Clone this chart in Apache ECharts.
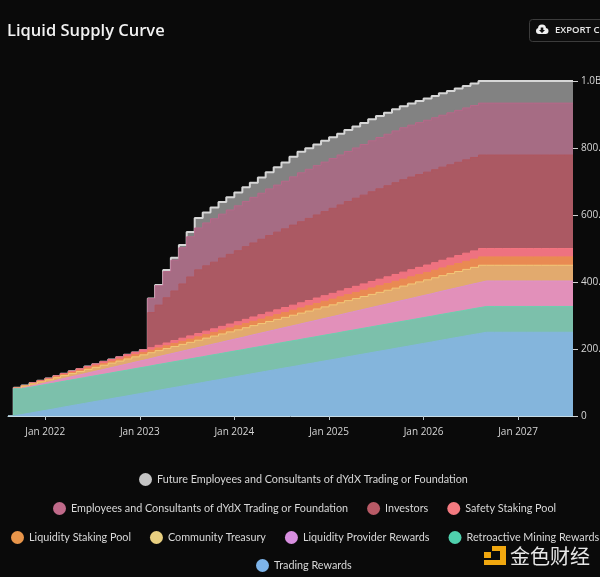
<!DOCTYPE html>
<html>
<head>
<meta charset="utf-8">
<script src="https://cdn.jsdelivr.net/npm/echarts@6/dist/echarts.min.js"></script>
<style>
html,body{margin:0;padding:0;background:#0a0a0a;width:600px;height:577px;overflow:hidden}
#c{width:720px;height:577px}
</style>
</head>
<body>
<div id="c"></div>
<script>
// Values in millions, one per month: first point is launch, then 1st of each month from Sep 2021
const tradingRewards = [0,4.2,8.3,12.5,16.7,20.8,25,29.2,33.3,37.5,41.7,45.8,50,54.2,58.3,62.5,66.7,70.8,75,79.2,83.3,87.5,91.7,95.8,100,104.2,108.3,112.5,116.7,120.8,125,129.2,133.3,137.5,141.7,145.8,150,154.2,158.3,162.5,166.7,170.8,175,179.2,183.3,187.5,191.7,195.8,200,204.2,208.3,212.5,216.7,220.8,225,229.2,233.3,237.5,241.7,245.8,250,250,250,250,250,250,250,250,250,250,250,250,250];
const retroactiveMining = [0,77,77,77,77,77,77,77,77,77,77,77,77,77,77,77,77,77,77,77,77,77,77,77,77,77,77,77,77,77,77,77,77,77,77,77,77,77,77,77,77,77,77,77,77,77,77,77,77,77,77,77,77,77,77,77,77,77,77,77,77,77,77,77,77,77,77,77,77,77,77,77,77];
const liquidityProvider = [0,1.3,2.5,3.8,5.1,6.3,7.6,8.9,10.1,11.4,12.7,13.9,15.2,16.5,17.7,19,20.3,21.5,22.8,24.1,25.3,26.6,27.9,29.1,30.4,31.7,32.9,34.2,35.5,36.7,38,39.3,40.5,41.8,43.1,44.3,45.6,46.9,48.1,49.4,50.7,51.9,53.2,54.5,55.7,57,58.3,59.5,60.8,62.1,63.3,64.6,65.9,67.1,68.4,69.7,70.9,72.2,73.5,74.7,76,76,76,76,76,76,76,76,76,76,76,76,76];
const communityTreasury = [0,0.8,1.6,2.4,3.1,3.9,4.7,5.5,6.3,7,7.8,8.6,9.4,10.2,11,11.8,12.5,13.3,14.1,14.9,15.7,16.5,17.2,18,18.8,19.6,20.4,21.2,21.9,22.7,23.5,24.3,25.1,25.9,26.6,27.4,28.2,29,29.8,30.6,31.3,32.1,32.9,33.7,34.5,35.2,36,36.8,37.6,38.4,39.2,40,40.7,41.5,42.3,43.1,43.9,44.6,45.4,46.2,47,47,47,47,47,47,47,47,47,47,47,47,47];
const liquidityStaking = [0,0.4,0.8,1.3,1.7,2.1,2.5,2.9,3.3,3.8,4.2,4.6,5,5.4,5.8,6.3,6.7,7.1,7.5,7.9,8.3,8.8,9.2,9.6,10,10.4,10.8,11.3,11.7,12.1,12.5,12.9,13.3,13.8,14.2,14.6,15,15.4,15.8,16.3,16.7,17.1,17.5,17.9,18.3,18.8,19.2,19.6,20,20.4,20.8,21.3,21.7,22.1,22.5,22.9,23.3,23.8,24.2,24.6,25,25,25,25,25,25,25,25,25,25,25,25,25];
const safetyStaking = [0,0.4,0.8,1.3,1.7,2.1,2.5,2.9,3.3,3.8,4.2,4.6,5,5.4,5.8,6.3,6.7,7.1,7.5,7.9,8.3,8.8,9.2,9.6,10,10.4,10.8,11.3,11.7,12.1,12.5,12.9,13.3,13.8,14.2,14.6,15,15.4,15.8,16.3,16.7,17.1,17.5,17.9,18.3,18.8,19.2,19.6,20,20.4,20.8,21.3,21.7,22.1,22.5,22.9,23.3,23.8,24.2,24.6,25,25,25,25,25,25,25,25,25,25,25,25,25];
const investors = [0,0,0,0,0,0,0,0,0,0,0,0,0,0,0,0,0,0,105,120,135,148,162,176,190,195,199,204,208,212,217,221,225,229,232,235,239,242,245,248,251,254,257,260,263,265,268,270,272,274,276,276.5,277,277.3,277.6,278,278.2,278.4,278.6,278.8,279,279,279,279,279,279,279,279,279,279,279,279,279];
const employees = [0,0,0,0,0,0,0,0,0,0,0,0,0,0,0,0,0,0,42,58,78,92,108,120,125,128,129.5,131,132.5,134,135,136,137.5,139,140.5,142,144,146,146.6,147.2,147.8,148.4,149,149.5,150,151,152,153,153.7,154.4,155,155,155,155,155,155,155,155,155,155,155,155,155,155,155,155,155,155,155,155,155,155,155];
const futureEmployees = [0,0,0,0,0,0,0,0,0,0,0,0,0,0,0,0,0,0,0,2,5,7,8,14,30,31,34,36,38,40,42,44,47,50,53,56,60,63,63.2,63.3,63.4,63.5,63.6,63.7,63.8,64,64.1,64.2,64.3,64.4,64.5,64.6,64.8,65,65.1,65.3,65.4,65.6,65.7,65.9,66,66,66,66,66,66,66,66,66,66,66,66,66];

const seriesNames = ['Trading Rewards','Retroactive Mining Rewards','Liquidity Provider Rewards','Community Treasury','Liquidity Staking Pool','Safety Staking Pool','Investors','Employees and Consultants of dYdX Trading or Foundation','Future Employees and Consultants of dYdX Trading or Foundation'];
const seriesValues = [tradingRewards,retroactiveMining,liquidityProvider,communityTreasury,liquidityStaking,safetyStaking,investors,employees,futureEmployees];
const legendColors = ['#7db4ea','#4fd0ad','#d88fe0','#e8cf80','#e8954a','#f47a80','#b85a66','#c06a8a','#c4c4c4'];
const lineColors = ['#84b6dd','#6ccfae','#dc90cc','#f2c878','#ec8a52','#f47480','#b0565f','#b8688a','#d6d6d6'];
const areaColors = ['#84b5dc','#7cc0ab','#e290ba','#e2aa6e','#e98a52','#ee7280','#ab5963','#a66c84','#828282'];
const yTicks = {0:'0',200:'200.0M',400:'400.0M',600:'600.0M',800:'800.0M',1000:'1.0B'};
const monthName = 'Jan';

const dates = ['2021-08-10'];
for (let i = 1; i <= 72; i++) {
  const d = new Date(Date.UTC(2021, 7 + i, 1));
  dates.push(d.toISOString().slice(0, 10));
}
const YEAR = 365 * 86400000;

// Layers are summed here and painted top layer first, so no hairline gaps open between
// stacked stairs; each layer then shows only its own band.
const running = dates.map(() => 0);
const layers = seriesNames.map((name, i) => {
  const data = dates.map((d, k) => {
    running[k] += seriesValues[i][k];
    return [d, +running[k].toFixed(1)];
  });
  return {
    name, type: 'line', step: 'end', symbol: 'none', silent: true, z: 20 - i,
    data,
    itemStyle: {color: legendColors[i]},
    lineStyle: {color: lineColors[i], width: i === 8 ? 2 : 1},
    areaStyle: {color: areaColors[i], opacity: 1}
  };
});

const font = 'Lato,"Open Sans",sans-serif';
const legendRow = (names, left, top, gap) => ({
  data: names, left, top, itemGap: gap, itemWidth: 13, itemHeight: 13, icon: 'circle',
  selectedMode: false, padding: 0, orient: 'horizontal', itemStyle: {opacity: 1},
  textStyle: {color: '#d8d8d8', fontSize: 10.8, fontFamily: font}
});

const chart = echarts.init(document.getElementById('c'), null, {renderer: 'canvas'});
chart.setOption({
  backgroundColor: '#0a0a0a',
  animation: false,
  title: {text: 'Liquid Supply Curve', left: 7, top: 23, padding: 0,
    textStyle: {color: '#f2f2f2', fontSize: 16.5, fontWeight: 600, fontFamily: '"Open Sans",sans-serif'}},
  legend: [
    legendRow([seriesNames[8]], 139, 473, 20),
    legendRow([seriesNames[7], seriesNames[6], seriesNames[5]], 53, 502, 19),
    legendRow([seriesNames[4], seriesNames[3], seriesNames[2], seriesNames[1]], 11, 531, 19),
    legendRow([seriesNames[0]], 256, 559, 20)
  ],
  grid: {left: 8, top: 81, width: 565, height: 335, containLabel: false},
  xAxis: {
    type: 'time',
    min: '2021-08-10', max: '2027-08-01',
    minInterval: YEAR, maxInterval: YEAR * 1.01,
    axisLine: {show: true, lineStyle: {color: '#c6dce6', width: 1}},
    axisTick: {show: true, length: 4, lineStyle: {color: '#b8c4c8'}},
    axisLabel: {show: true, color: '#d4d4d4', fontSize: 10, fontFamily: '"Open Sans",sans-serif', margin: 11,
      formatter: v => {
        const d = new Date(v);
        return d.getUTCMonth() === 0 ? monthName + ' ' + d.getUTCFullYear() : '';
      }},
    splitLine: {show: false}, z: 30
  },
  yAxis: {
    type: 'value', position: 'right', min: 0, max: 1000, interval: 200,
    axisLine: {show: false},
    axisTick: {show: true, length: 5, lineStyle: {color: '#d0d0d0'}},
    axisLabel: {color: '#d8d8d8', fontSize: 10, fontFamily: '"Open Sans",sans-serif', margin: 8, formatter: v => yTicks[v]},
    splitLine: {show: false}
  },
  series: layers,
  graphic: [
    {type: 'rect', shape: {x: 529.5, y: 19.5, width: 120, height: 22, r: 3},
      style: {fill: '#0d0d0d', stroke: '#3c3c3c', lineWidth: 1}},
    {type: 'circle', shape: {cx: 539, cy: 31, r: 3}, style: {fill: '#f0f0f0'}},
    {type: 'circle', shape: {cx: 542, cy: 28.5, r: 4}, style: {fill: '#f0f0f0'}},
    {type: 'circle', shape: {cx: 545.5, cy: 31, r: 3}, style: {fill: '#f0f0f0'}},
    {type: 'rect', shape: {x: 539, y: 30, width: 7, height: 4}, style: {fill: '#f0f0f0'}},
    {type: 'polygon', shape: {points: [[540.7,27.5],[543.3,27.5],[543.3,30],[545,30],[542,33],[539,30],[540.7,30]]}, style: {fill: '#111'}},
    {type: 'text', x: 555, y: 30, style: {text: 'EXPORT CSV', fill: '#e8e8e8', font: '600 9.5px "Open Sans",sans-serif', textVerticalAlign: 'middle'}},
    {type: 'rect', shape: {x: 492, y: 546, width: 14, height: 5}, style: {fill: '#f0a70f'}},
    {type: 'rect', shape: {x: 500, y: 546, width: 6, height: 19}, style: {fill: '#f0a70f'}},
    {type: 'rect', shape: {x: 484, y: 560, width: 22, height: 5}, style: {fill: '#f0a70f'}},
    {type: 'rect', shape: {x: 484, y: 552, width: 7, height: 6}, style: {fill: '#f0a70f'}},
    {type: 'text', x: 510, y: 556, style: {text: '金色财经', fill: '#e6e6e6', font: '400 20px "Noto Sans CJK SC"', textVerticalAlign: 'middle'}}
  ]
});
</script>
</body>
</html>
